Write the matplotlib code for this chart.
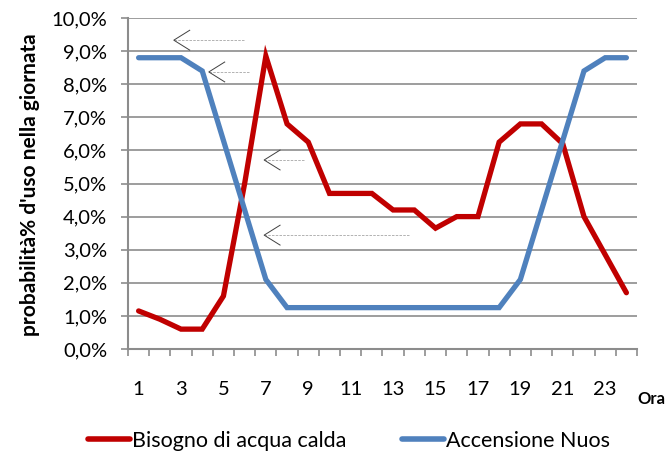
import matplotlib.pyplot as plt
from matplotlib.lines import Line2D
from matplotlib.ticker import FuncFormatter

plt.rcParams['font.family'] = ['Lato', 'DejaVu Sans']

ore = list(range(1, 25))
bisogno = [1.15, 0.9, 0.6, 0.6, 1.6, 5.0, 8.85, 6.8, 6.25, 4.7, 4.7, 4.7,
           4.2, 4.2, 3.65, 4.0, 4.0, 6.25, 6.8, 6.8, 6.2, 4.0, 2.85, 1.7]
accensione = [8.8, 8.8, 8.8, 8.4, 6.3, 4.2, 2.1, 1.25, 1.25, 1.25, 1.25, 1.25,
              1.25, 1.25, 1.25, 1.25, 1.25, 1.25, 2.1, 4.2, 6.3, 8.4, 8.8, 8.8]
etichette_x = [1, 3, 5, 7, 9, 11, 13, 15, 17, 19, 21, 23]

# frecce (punta x, punta y, coda x)
frecce = [(2.66, 9.33, 5.97), (4.31, 8.37, 6.25), (6.92, 5.71, 8.81), (6.92, 3.44, 13.73)]

rosso = '#C00000'
blu = '#4F81BD'
grigio = '#8C8C8C'

fig = plt.figure(figsize=(6.66, 4.54), dpi=100)
ax = fig.add_axes([128/666, 1 - 349/454, (637 - 128)/666, (349 - 18)/454])

ax.plot(ore, bisogno, color=rosso, lw=3.8, solid_capstyle='round', solid_joinstyle='miter', zorder=3)
ax.plot(ore, accensione, color=blu, lw=3.8, solid_capstyle='round', solid_joinstyle='miter', zorder=3)

for hx, hy, tx in frecce:
    ax.plot([hx, tx], [hy, hy], color='#A6A6A6', lw=0.6, ls=(0, (3, 1.5)), zorder=4)
    ax.plot([hx + 0.75, hx, hx + 0.75], [hy + 0.3, hy, hy - 0.3], color='#404040', lw=0.7, zorder=4)

ax.set_xlim(0.5, 24.5)
ax.set_ylim(0, 10)
ax.set_yticks(range(0, 11))
ax.yaxis.set_major_formatter(FuncFormatter(lambda v, p: ('%.1f%%' % v).replace('.', ',')))
ax.grid(axis='y', color=grigio, lw=1.2)
ax.set_axisbelow(True)

ax.set_xticks(etichette_x)
ax.set_xticks([i + 0.5 for i in range(0, 25)], minor=True)
ax.tick_params(axis='x', which='major', length=0, pad=23, labelsize=14.5)
ax.tick_params(axis='x', which='minor', length=5, color=grigio, width=1.2)
ax.tick_params(axis='y', length=5, color=grigio, width=1.2, pad=10, labelsize=14.5)

for s in ['top', 'right']:
    ax.spines[s].set_visible(False)
for s in ['left', 'bottom']:
    ax.spines[s].set_color(grigio)
    ax.spines[s].set_linewidth(1.5)

fig.text(30/666, 1 - 185/454, "probabilità% d'uso nella giornata", rotation=90,
         fontsize=15, fontweight='bold', ha='center', va='center')
fig.text(651/666, 1 - 399/454, 'Ora', fontsize=12, fontweight='bold', ha='center', va='center')

handles = [Line2D([], [], color=rosso, lw=4, solid_capstyle='round'),
           Line2D([], [], color=blu, lw=4, solid_capstyle='round')]
fig.legend(handles, ['Bisogno di acqua calda', 'Accensione Nuos'], loc='center',
           bbox_to_anchor=(349/666, 1 - 441/454), ncol=2, frameon=False, fontsize=15.5,
           handlelength=1.95, handletextpad=0.1, columnspacing=2.6)

fig.savefig('out.png', dpi=100)
